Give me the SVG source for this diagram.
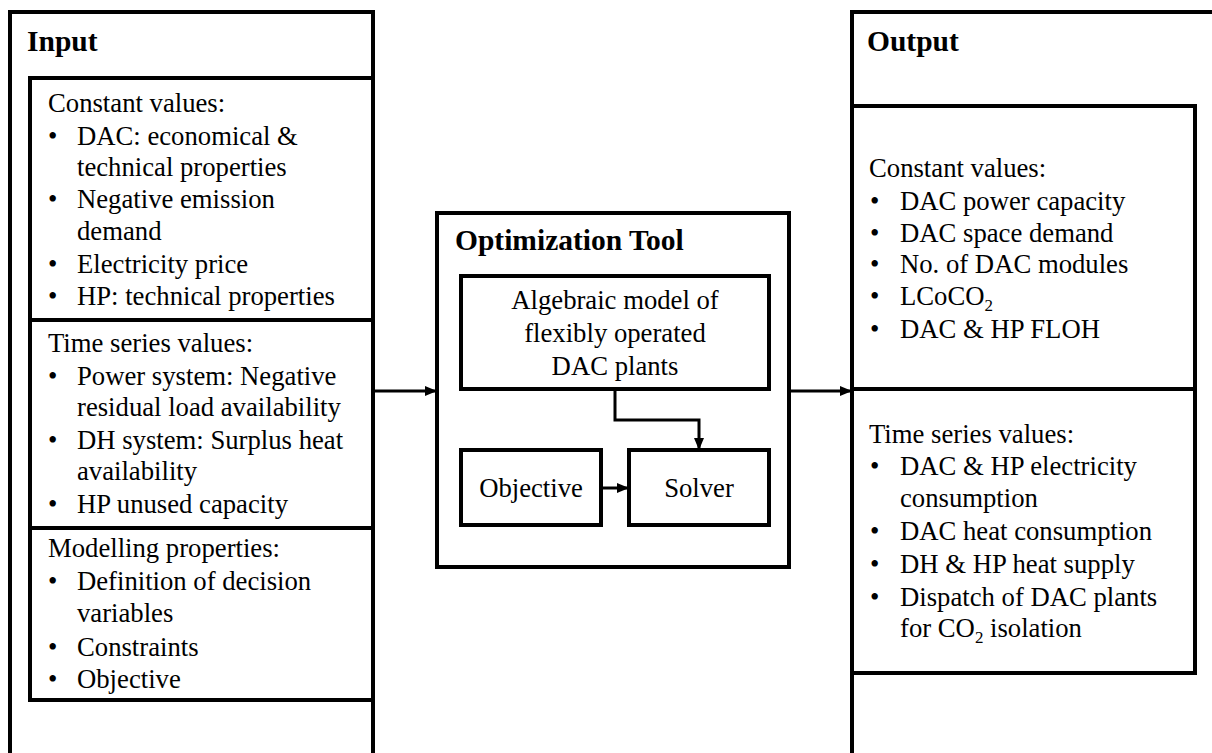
<svg xmlns="http://www.w3.org/2000/svg" width="1212" height="753" viewBox="0 0 1212 753">
<style>
.box{fill:none;stroke:#000;stroke-width:4;stroke-linejoin:miter}
.t{font-family:'Liberation Serif','Times New Roman',Times,'DejaVu Serif',serif;font-size:26.7px;fill:#000}
.h{font-family:'Liberation Serif','Times New Roman',Times,'DejaVu Serif',serif;font-size:29.5px;font-weight:bold;fill:#000}
.c{text-anchor:middle}
.con{fill:none;stroke:#000;stroke-width:3}
</style>
<defs>
<marker id="arr" markerWidth="12" markerHeight="10" refX="11" refY="5" orient="auto" markerUnits="userSpaceOnUse">
<path d="M0,0 L12,5 L0,10 Z" fill="#000"/>
</marker>
</defs>
<rect width="1212" height="753" fill="#fff"/>

<g id="input">
<path class="box" d="M10,760 V12 H373 V760"/>
<text class="h" x="27" y="51">Input</text>
<g id="input-constant">
<path class="box" d="M30,320 V78 H373 V320 Z"/>
<text class="t" x="48" y="112">Constant values:</text>
<text class="t" x="48" y="145">•</text><text class="t" x="77" y="145">DAC: economical &amp;</text>
<text class="t" x="77" y="176">technical properties</text>
<text class="t" x="48" y="208">•</text><text class="t" x="77" y="208">Negative emission</text>
<text class="t" x="77" y="240">demand</text>
<text class="t" x="48" y="273">•</text><text class="t" x="77" y="273">Electricity price</text>
<text class="t" x="48" y="305">•</text><text class="t" x="77" y="305">HP: technical properties</text>
</g>
<g id="input-timeseries">
<path class="box" d="M30,320 V528 H373 V320"/>
<text class="t" x="48" y="352">Time series values:</text>
<text class="t" x="48" y="385">•</text><text class="t" x="77" y="385">Power system: Negative</text>
<text class="t" x="77" y="416">residual load availability</text>
<text class="t" x="48" y="449">•</text><text class="t" x="77" y="449">DH system: Surplus heat</text>
<text class="t" x="77" y="480">availability</text>
<text class="t" x="48" y="513">•</text><text class="t" x="77" y="513">HP unused capacity</text>
</g>
<g id="input-modelling">
<path class="box" d="M30,528 V700 H373 V528"/>
<text class="t" x="48" y="557">Modelling properties:</text>
<text class="t" x="48" y="590">•</text><text class="t" x="77" y="590">Definition of decision</text>
<text class="t" x="77" y="622">variables</text>
<text class="t" x="48" y="656">•</text><text class="t" x="77" y="656">Constraints</text>
<text class="t" x="48" y="688">•</text><text class="t" x="77" y="688">Objective</text>
</g>
</g>

<g id="optimization-tool">
<rect class="box" x="437" y="213" width="352" height="354"/>
<text class="h" x="455" y="250">Optimization Tool</text>
</g>
<g id="algebraic-model">
<rect class="box" x="461" y="276" width="308" height="113"/>
<text class="t c" x="615" y="309">Algebraic model of</text>
<text class="t c" x="615" y="342">flexibly operated</text>
<text class="t c" x="615" y="375">DAC plants</text>
</g>
<g id="objective">
<rect class="box" x="461" y="450" width="140" height="75"/>
<text class="t c" x="531" y="497">Objective</text>
</g>
<g id="solver">
<rect class="box" x="629" y="450" width="140" height="75"/>
<text class="t c" x="699" y="497">Solver</text>
</g>

<g id="output">
<path class="box" d="M852,760 V12 H1220"/>
<text class="h" x="867" y="51">Output</text>
<g id="output-constant">
<path class="box" d="M852,389 V106 H1195 V389 Z"/>
<text class="t" x="869" y="177">Constant values:</text>
<text class="t" x="870" y="210">•</text><text class="t" x="900" y="210">DAC power capacity</text>
<text class="t" x="870" y="242">•</text><text class="t" x="900" y="242">DAC space demand</text>
<text class="t" x="870" y="273">•</text><text class="t" x="900" y="273">No. of DAC modules</text>
<text class="t" x="870" y="305">•</text><text class="t" x="900" y="305">LCoCO<tspan font-size="17" dy="6">2</tspan></text>
<text class="t" x="870" y="338">•</text><text class="t" x="900" y="338">DAC &amp; HP FLOH</text>
</g>
<g id="output-timeseries">
<path class="box" d="M852,389 V673 H1195 V389"/>
<text class="t" x="869" y="443">Time series values:</text>
<text class="t" x="870" y="475">•</text><text class="t" x="900" y="475">DAC &amp; HP electricity</text>
<text class="t" x="900" y="507">consumption</text>
<text class="t" x="870" y="540">•</text><text class="t" x="900" y="540">DAC heat consumption</text>
<text class="t" x="870" y="573">•</text><text class="t" x="900" y="573">DH &amp; HP heat supply</text>
<text class="t" x="870" y="606">•</text><text class="t" x="900" y="606">Dispatch of DAC plants</text>
<text class="t" x="900" y="637">for CO<tspan font-size="17" dy="6">2</tspan><tspan dy="-6"> isolation</tspan></text>
</g>
</g>

<g id="connectors">
<line class="con" x1="373" y1="391" x2="436" y2="391" marker-end="url(#arr)"/>
<line class="con" x1="789" y1="391" x2="851" y2="391" marker-end="url(#arr)"/>
<polyline class="con" points="615,389 615,420 699,420 699,449" marker-end="url(#arr)"/>
<line class="con" x1="601" y1="488" x2="628" y2="488" marker-end="url(#arr)"/>
</g>
</svg>
